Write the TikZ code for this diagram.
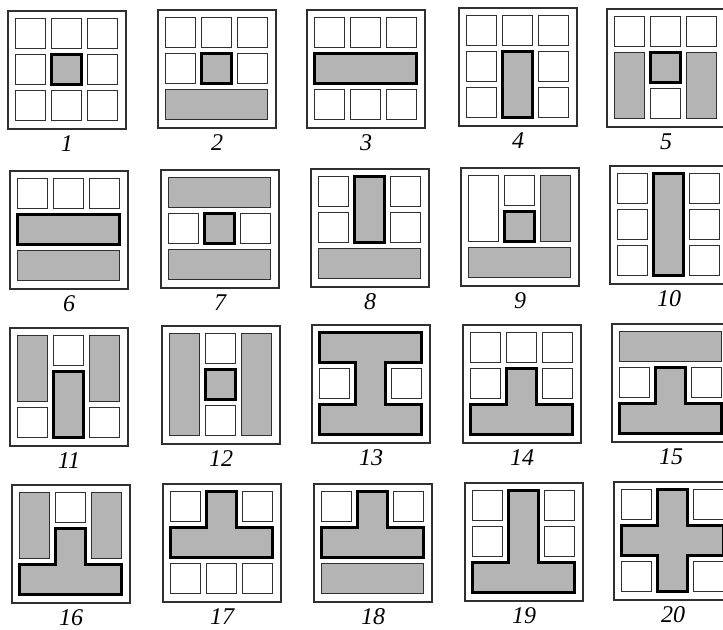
\documentclass[tikz,border=0pt]{standalone}
\usepackage{fontspec}
\setmainfont{Liberation Serif}
\usetikzlibrary{positioning}
\definecolor{slab}{HTML}{B4B4B4}
\definecolor{rule}{HTML}{303030}

%% cell edges inside a panel: margin 8, cell 30, gap 6
\newcommand{\edgeL}[1]{8+36*#1}
\newcommand{\edgeR}[1]{38+36*#1}
\newcommand{\openbox}[4]{\draw[cell] ({\edgeL{#1}},{\edgeL{#2}}) rectangle ({\edgeR{#3}},{\edgeR{#4}});}
\newcommand{\greybox}[4]{\draw[cell, fill=slab] ({\edgeL{#1}},{\edgeL{#2}}) rectangle ({\edgeR{#3}},{\edgeR{#4}});}
\newcommand{\keybox}[4]{\draw[key] ({\edgeL{#1}},{\edgeL{#2}}) rectangle ({\edgeR{#3}},{\edgeR{#4}});}
\newcommand{\opencell}[2]{\openbox{#1}{#2}{#1}{#2}}
\newcommand{\openrow}[1]{\foreach \i in {0,1,2} {\opencell{\i}{#1}}}
\newcommand{\opencol}[1]{\foreach \j in {0,1,2} {\opencell{#1}{\j}}}

\begin{document}
\begin{tikzpicture}[
    x=0.5pt, y=-0.5pt,
    frame/.style={
      rectangle, draw=rule, line width=0.6pt,
      minimum size=59pt, inner sep=0pt
    },
    cell/.style={draw=rule, line width=0.7pt, fill=white},
    key/.style={draw=black, line width=1.4pt, fill=slab},
    numlabel/.style={font=\fontsize{12}{14}\selectfont\itshape, inner sep=0pt},
  ]
  \useasboundingbox (0,0) rectangle (723,630);
  \clip (0,0) rectangle (723,630);

  %% ── Row 1 ──
  \node[frame] (p1)  at (67,70)  {};
  \node[frame] (p2)  at (217,69) {};
  \node[frame] (p3)  at (366,69) {};
  \node[frame] (p4)  at (518,67) {};
  \node[frame] (p5)  at (666,68) {};

  %% ── Row 2 ──
  \node[frame] (p6)  at (69,230)  {};
  \node[frame] (p7)  at (220,229) {};
  \node[frame] (p8)  at (370,228) {};
  \node[frame] (p9)  at (520,227) {};
  \node[frame] (p10) at (669,225) {};

  %% ── Row 3 ──
  \node[frame] (p11) at (69,387)  {};
  \node[frame] (p12) at (221,385) {};
  \node[frame] (p13) at (371,384) {};
  \node[frame] (p14) at (522,384) {};
  \node[frame] (p15) at (671,383) {};

  %% ── Row 4 ──
  \node[frame] (p16) at (71,544)  {};
  \node[frame] (p17) at (222,543) {};
  \node[frame] (p18) at (373,543) {};
  \node[frame] (p19) at (524,542) {};
  \node[frame] (p20) at (673,541) {};

  %% ── Numbers ──
  \foreach \n in {1,...,20}
    \node[numlabel, below=3pt of p\n] (n\n) {\n};

  %% ── Panel contents ──
  \begin{scope}[shift={(p1.north west)}]
    \openrow{0} \openrow{2} \opencell{0}{1} \opencell{2}{1}
    \keybox{1}{1}{1}{1}
  \end{scope}
  \begin{scope}[shift={(p2.north west)}]
    \openrow{0} \opencell{0}{1} \opencell{2}{1}
    \keybox{1}{1}{1}{1}
    \greybox{0}{2}{2}{2}
  \end{scope}
  \begin{scope}[shift={(p3.north west)}]
    \openrow{0} \openrow{2}
    \keybox{0}{1}{2}{1}
  \end{scope}
  \begin{scope}[shift={(p4.north west)}]
    \openrow{0} \opencell{0}{1} \opencell{0}{2} \opencell{2}{1} \opencell{2}{2}
    \keybox{1}{1}{1}{2}
  \end{scope}
  \begin{scope}[shift={(p5.north west)}]
    \openrow{0} \opencell{1}{2}
    \greybox{0}{1}{0}{2} \greybox{2}{1}{2}{2}
    \keybox{1}{1}{1}{1}
  \end{scope}

  \begin{scope}[shift={(p6.north west)}]
    \openrow{0}
    \keybox{0}{1}{2}{1}
    \greybox{0}{2}{2}{2}
  \end{scope}
  \begin{scope}[shift={(p7.north west)}]
    \greybox{0}{0}{2}{0}
    \opencell{0}{1} \opencell{2}{1}
    \keybox{1}{1}{1}{1}
    \greybox{0}{2}{2}{2}
  \end{scope}
  \begin{scope}[shift={(p8.north west)}]
    \opencell{0}{0} \opencell{0}{1} \opencell{2}{0} \opencell{2}{1}
    \keybox{1}{0}{1}{1}
    \greybox{0}{2}{2}{2}
  \end{scope}
  \begin{scope}[shift={(p9.north west)}]
    \openbox{0}{0}{0}{1} \opencell{1}{0}
    \keybox{1}{1}{1}{1}
    \greybox{2}{0}{2}{1}
    \greybox{0}{2}{2}{2}
  \end{scope}
  \begin{scope}[shift={(p10.north west)}]
    \opencol{0} \opencol{2}
    \keybox{1}{0}{1}{2}
  \end{scope}

  \begin{scope}[shift={(p11.north west)}]
    \greybox{0}{0}{0}{1} \greybox{2}{0}{2}{1}
    \opencell{1}{0} \opencell{0}{2} \opencell{2}{2}
    \keybox{1}{1}{1}{2}
  \end{scope}
  \begin{scope}[shift={(p12.north west)}]
    \greybox{0}{0}{0}{2} \greybox{2}{0}{2}{2}
    \opencell{1}{0} \opencell{1}{2}
    \keybox{1}{1}{1}{1}
  \end{scope}
  \begin{scope}[shift={(p13.north west)}]
    \draw[key] (8,8) -- (110,8) -- (110,38) -- (74,38) -- (74,80) -- (110,80)
      -- (110,110) -- (8,110) -- (8,80) -- (44,80) -- (44,38) -- (8,38) -- cycle;
    \opencell{0}{1} \opencell{2}{1}
  \end{scope}
  \begin{scope}[shift={(p14.north west)}]
    \openrow{0} \opencell{0}{1} \opencell{2}{1}
    \draw[key] (44,44) -- (74,44) -- (74,80) -- (110,80) -- (110,110)
      -- (8,110) -- (8,80) -- (44,80) -- cycle;
  \end{scope}
  \begin{scope}[shift={(p15.north west)}]
    \greybox{0}{0}{2}{0}
    \opencell{0}{1} \opencell{2}{1}
    \draw[key] (44,44) -- (74,44) -- (74,80) -- (110,80) -- (110,110)
      -- (8,110) -- (8,80) -- (44,80) -- cycle;
  \end{scope}

  \begin{scope}[shift={(p16.north west)}]
    \greybox{0}{0}{0}{1} \greybox{2}{0}{2}{1}
    \opencell{1}{0}
    \draw[key] (44,44) -- (74,44) -- (74,80) -- (110,80) -- (110,110)
      -- (8,110) -- (8,80) -- (44,80) -- cycle;
  \end{scope}
  \begin{scope}[shift={(p17.north west)}]
    \opencell{0}{0} \opencell{2}{0} \openrow{2}
    \draw[key] (44,8) -- (74,8) -- (74,44) -- (110,44) -- (110,74)
      -- (8,74) -- (8,44) -- (44,44) -- cycle;
  \end{scope}
  \begin{scope}[shift={(p18.north west)}]
    \opencell{0}{0} \opencell{2}{0}
    \draw[key] (44,8) -- (74,8) -- (74,44) -- (110,44) -- (110,74)
      -- (8,74) -- (8,44) -- (44,44) -- cycle;
    \greybox{0}{2}{2}{2}
  \end{scope}
  \begin{scope}[shift={(p19.north west)}]
    \opencell{0}{0} \opencell{0}{1} \opencell{2}{0} \opencell{2}{1}
    \draw[key] (44,8) -- (74,8) -- (74,80) -- (110,80) -- (110,110)
      -- (8,110) -- (8,80) -- (44,80) -- cycle;
  \end{scope}
  \begin{scope}[shift={(p20.north west)}]
    \opencell{0}{0} \opencell{2}{0} \opencell{0}{2} \opencell{2}{2}
    \draw[key] (44,8) -- (74,8) -- (74,44) -- (110,44) -- (110,74) -- (74,74)
      -- (74,110) -- (44,110) -- (44,74) -- (8,74) -- (8,44) -- (44,44) -- cycle;
  \end{scope}

\end{tikzpicture}
\end{document}
